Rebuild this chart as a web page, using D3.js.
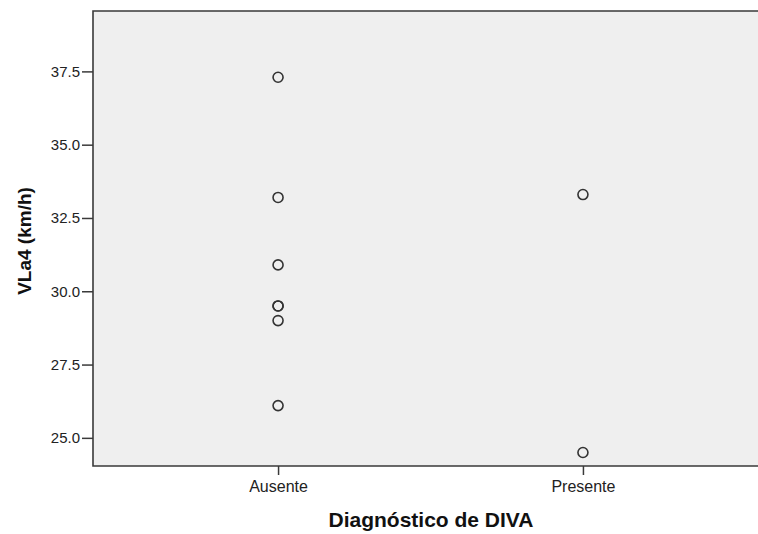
<!DOCTYPE html>
<html>
<head>
<meta charset="utf-8">
<script src="https://d3js.org/d3.v7.min.js"></script>
<style>
  body { margin: 0; background: #fff; overflow: hidden; }
  svg { display: block; }
  text { font-family: "Liberation Sans", Arial, sans-serif; }
</style>
</head>
<body>
<svg id="chart" width="758" height="534"></svg>
<script>
// categories and observed values
var categories = ["Ausente", "Presente"];
var ausenteValues = [37.3, 33.2, 30.9, 29.5, 29.5, 29.0, 26.1];
var presenteValues = [33.3, 24.5];
var yTicks = [25.0, 27.5, 30.0, 32.5, 35.0, 37.5];

var points = [];
ausenteValues.forEach(function(v) { points.push({ cat: "Ausente", value: v }); });
presenteValues.forEach(function(v) { points.push({ cat: "Presente", value: v }); });

var plotLeft = 93, plotTop = 11, plotBottom = 466, plotRight = 768;

var svg = d3.select("#chart");

var x = d3.scalePoint()
    .domain(categories)
    .range([plotLeft, plotRight])
    .padding(0.607);

var y = d3.scaleLinear()
    .domain([24.04, 39.56])
    .range([plotBottom, plotTop]);

// plot background
svg.append("rect")
    .attr("x", plotLeft)
    .attr("y", plotTop)
    .attr("width", plotRight - plotLeft)
    .attr("height", plotBottom - plotTop)
    .attr("fill", "#efefef");

// frame (left, top, bottom)
svg.append("path")
    .attr("d", "M" + plotRight + "," + plotTop + "H" + plotLeft + "V" + plotBottom + "H" + plotRight)
    .attr("fill", "none")
    .attr("stroke", "#3a3a3a")
    .attr("stroke-width", 1.6);

// y axis
var yAxis = svg.append("g")
    .attr("transform", "translate(" + plotLeft + ",0)")
    .call(d3.axisLeft(y).tickValues(yTicks).tickSize(11).tickSizeOuter(0).tickFormat(d3.format(".1f")));
yAxis.select(".domain").remove();
yAxis.selectAll("line").attr("stroke", "#3a3a3a").attr("stroke-width", 1.5);
yAxis.selectAll("text")
    .attr("x", -13)
    .attr("fill", "#222")
    .style("font-size", "15px")
    .style("font-family", "'Liberation Sans', Arial, sans-serif");

// x axis
var xAxis = svg.append("g")
    .attr("transform", "translate(0," + plotBottom + ")")
    .call(d3.axisBottom(x).tickSize(9).tickSizeOuter(0));
xAxis.select(".domain").remove();
xAxis.selectAll("line").attr("stroke", "#3a3a3a").attr("stroke-width", 1.5);
xAxis.selectAll("text")
    .attr("y", 15)
    .attr("fill", "#222")
    .style("font-size", "16px")
    .style("font-family", "'Liberation Sans', Arial, sans-serif");

// points
svg.append("g")
    .selectAll("circle")
    .data(points)
    .enter().append("circle")
    .attr("cx", function(d) { return x(d.cat); })
    .attr("cy", function(d) { return y(d.value); })
    .attr("r", 5)
    .attr("fill", "none")
    .attr("stroke", "#333")
    .attr("stroke-width", 1.6);

// axis titles
svg.append("text")
    .attr("x", 431)
    .attr("y", 527)
    .attr("text-anchor", "middle")
    .style("font-size", "21px")
    .style("font-weight", "bold")
    .attr("fill", "#111")
    .text("Diagnóstico de DIVA");

svg.append("text")
    .attr("transform", "translate(31,241) rotate(-90)")
    .attr("text-anchor", "middle")
    .style("font-size", "19px")
    .style("font-weight", "bold")
    .attr("fill", "#111")
    .text("VLa4 (km/h)");
</script>
</body>
</html>
